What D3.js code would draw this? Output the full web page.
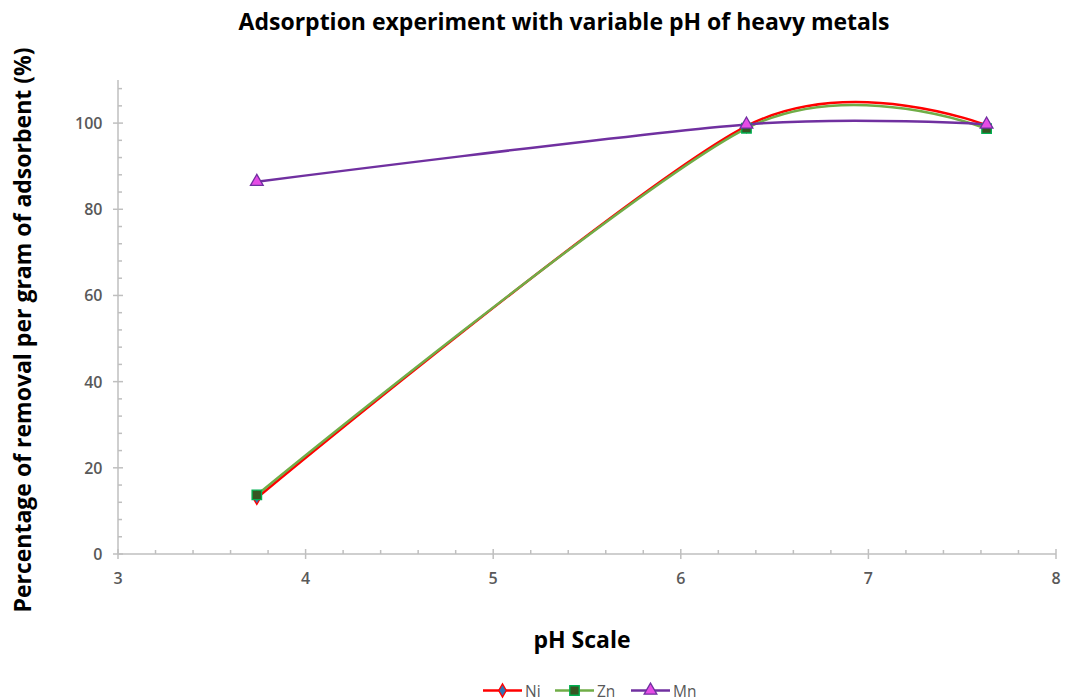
<!DOCTYPE html>
<html>
<head>
<meta charset="utf-8">
<script src="https://cdn.jsdelivr.net/npm/d3@7"></script>
<style>
  body { margin: 0; background: #fff; }
  svg { display: block; font-family: "Open Sans", "Noto Sans", sans-serif; }
</style>
</head>
<body>
<svg id="chart" width="1066" height="700"></svg>
<script>
// pH values at which removal was measured
const phValues = [3.74, 6.35, 7.63];
// Percentage of removal per gram of adsorbent for each metal
const niValues = [13.0, 99.3, 99.5];
const znValues = [13.7, 98.8, 98.7];
const mnValues = [86.4, 99.7, 99.7];

const seriesNames = ["Ni", "Zn", "Mn"];
const xTicks = [3, 4, 5, 6, 7, 8];
const yTicks = [0, 20, 40, 60, 80, 100];

const series = [
  { name: seriesNames[0], values: niValues, line: "#ff0000", fill: "#2e75b6", stroke: "#ff0000", shape: d3.symbolDiamond, size: 50 },
  { name: seriesNames[1], values: znValues, line: "#70ad47", fill: "#375623", stroke: "#00b050", shape: d3.symbolSquare, size: 90 },
  { name: seriesNames[2], values: mnValues, line: "#7030a0", fill: "#e64ce6", stroke: "#7030a0", shape: d3.symbolTriangle, size: 70 }
];

const svg = d3.select("#chart");
const x = d3.scaleLinear().domain([3, 8]).range([118, 1056]);
const y = d3.scaleLinear().domain([0, 110]).range([554, 80]);

const axisColor = "#bfbfbf";
const labelColor = "#595959";

// Title
svg.append("text")
  .attr("x", 564).attr("y", 30)
  .attr("text-anchor", "middle")
  .attr("font-size", 23).attr("font-weight", 700).attr("fill", "#000")
  .text("Adsorption experiment with variable pH of heavy metals");

// Axis lines
const axes = svg.append("g").attr("stroke", axisColor).attr("stroke-width", 1.5);
axes.append("line").attr("x1", x(3)).attr("x2", x(8)).attr("y1", y(0)).attr("y2", y(0));
axes.append("line").attr("x1", x(3)).attr("x2", x(3)).attr("y1", y(0)).attr("y2", y(110));

// X ticks: major ones cross the axis, minor ones point inward
d3.range(3, 8.001, 0.2).forEach(v => {
  const major = Math.abs(v - Math.round(v)) < 1e-6;
  axes.append("line")
    .attr("x1", x(v)).attr("x2", x(v))
    .attr("y1", y(0) - (major ? 5 : 4)).attr("y2", y(0) + (major ? 5 : 0));
});
// Y ticks
d3.range(0, 110.001, 4).forEach(v => {
  const major = v % 20 === 0;
  axes.append("line")
    .attr("y1", y(v)).attr("y2", y(v))
    .attr("x1", x(3) - (major ? 5 : 0)).attr("x2", x(3) + (major ? 5 : 4));
});

// Tick labels
svg.append("g").selectAll("text").data(xTicks).join("text")
  .attr("x", d => x(d)).attr("y", 584)
  .attr("text-anchor", "middle")
  .attr("font-size", 16).attr("font-weight", 600).attr("fill", labelColor)
  .text(d => d);
svg.append("g").selectAll("text").data(yTicks).join("text")
  .attr("x", 102.5).attr("y", d => y(d) + 6)
  .attr("text-anchor", "end")
  .attr("font-size", 16).attr("font-weight", 600).attr("fill", labelColor)
  .text(d => d);

// Axis titles
svg.append("text")
  .attr("x", 582).attr("y", 648)
  .attr("text-anchor", "middle")
  .attr("font-size", 23).attr("font-weight", 700).attr("fill", "#000")
  .text("pH Scale");
svg.append("text")
  .attr("transform", "translate(31,330) rotate(-90)")
  .attr("text-anchor", "middle")
  .attr("font-size", 23).attr("font-weight", 700).attr("fill", "#000")
  .text("Percentage of removal per gram of adsorbent (%)");

// Smoothed series lines
const line = d3.line()
  .x((d, i) => x(phValues[i]))
  .y(d => y(d))
  .curve(d3.curveCardinal.tension(0.14));

const sym = d3.symbol();
series.forEach(s => {
  svg.append("path")
    .attr("d", line(s.values))
    .attr("fill", "none")
    .attr("stroke", s.line)
    .attr("stroke-width", 2.5);
});
series.forEach(s => {
  svg.append("g").selectAll("path").data(s.values).join("path")
    .attr("transform", (d, i) => `translate(${x(phValues[i])},${y(d)})`)
    .attr("d", sym.type(s.shape).size(s.size)())
    .attr("fill", s.fill)
    .attr("stroke", s.stroke)
    .attr("stroke-width", 1.3);
});

// Legend
const legendX = [483, 555, 631];
const legend = svg.append("g");
series.forEach((s, i) => {
  const g = legend.append("g").attr("transform", `translate(${legendX[i]},690.5)`);
  g.append("line").attr("x1", 0).attr("x2", 39).attr("y1", 0).attr("y2", 0)
    .attr("stroke", s.line).attr("stroke-width", 2.5);
  g.append("path")
    .attr("transform", "translate(19.5,0)")
    .attr("d", sym.type(s.shape).size(s.size)())
    .attr("fill", s.fill).attr("stroke", s.stroke).attr("stroke-width", 1.3);
  g.append("text").attr("x", 42).attr("y", 6)
    .attr("font-size", 15.5).attr("fill", labelColor)
    .text(s.name);
});
</script>
</body>
</html>
